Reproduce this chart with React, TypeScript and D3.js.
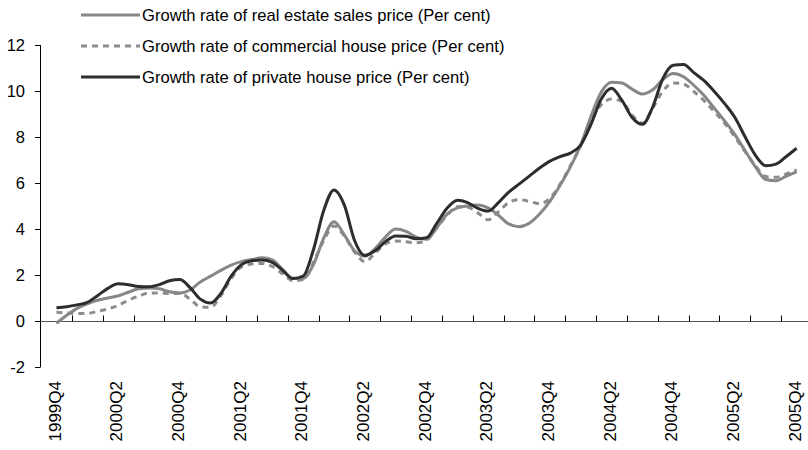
import React, { useEffect, useRef } from 'react';
import * as d3 from 'd3';

// monthly readings, Oct/Nov 1999 .. 2005Q4 (3 points per quarter)
const quarterLabels = [
    '1999Q4', '2000Q2', '2000Q4', '2001Q2', '2001Q4', '2002Q2', '2002Q4',
    '2003Q2', '2003Q4', '2004Q2', '2004Q4', '2005Q2', '2005Q4'
];

const realEstate = [
    -0.10, 0.25, 0.55, 0.75, 0.90, 1.00, 1.09, 1.25, 1.40, 1.43, 1.40, 1.27,
    1.22, 1.35, 1.70, 1.95, 2.20, 2.43, 2.58, 2.67, 2.75, 2.66, 2.25, 1.85,
    1.85, 2.45, 3.60, 4.32, 3.75, 3.05, 2.82, 3.15, 3.65, 4.00, 3.90, 3.65,
    3.55, 4.05, 4.65, 4.92, 5.00, 5.04, 4.92, 4.60, 4.22, 4.10, 4.25, 4.65,
    5.20, 5.90, 6.70, 7.65, 8.90, 9.95, 10.38, 10.35, 10.08, 9.87, 10.05, 10.50,
    10.76, 10.62, 10.25, 9.80, 9.25, 8.70, 8.10, 7.40, 6.70, 6.15, 6.10, 6.30,
    6.49
];

const commercial = [
    0.38, 0.35, 0.33, 0.33, 0.42, 0.52, 0.68, 0.90, 1.08, 1.22, 1.22, 1.20,
    1.20, 0.95, 0.62, 0.60, 1.10, 1.85, 2.35, 2.48, 2.50, 2.37, 2.05, 1.75,
    1.80, 2.55, 3.50, 4.13, 3.70, 3.00, 2.58, 2.95, 3.35, 3.48, 3.45, 3.40,
    3.52, 4.05, 4.60, 4.97, 4.95, 4.70, 4.40, 4.75, 5.15, 5.28, 5.20, 5.10,
    5.33, 5.95, 6.75, 7.62, 8.70, 9.40, 9.65, 9.55, 8.95, 8.60, 9.25, 10.00,
    10.35, 10.30, 9.98, 9.58, 9.10, 8.60, 8.00, 7.35, 6.75, 6.28, 6.25, 6.40,
    6.57
];

const privateHouse = [
    0.58, 0.62, 0.70, 0.81, 1.10, 1.42, 1.62, 1.58, 1.50, 1.49, 1.58, 1.75,
    1.80, 1.45, 0.95, 0.78, 1.20, 1.95, 2.45, 2.62, 2.65, 2.55, 2.20, 1.85,
    1.95, 3.10, 4.80, 5.70, 5.05, 3.50, 2.85, 3.05, 3.45, 3.70, 3.68, 3.58,
    3.62, 4.25, 4.90, 5.25, 5.15, 4.90, 4.78, 5.15, 5.60, 5.95, 6.30, 6.65,
    6.95, 7.15, 7.30, 7.65, 8.55, 9.65, 10.12, 9.60, 8.85, 8.55, 9.30, 10.55,
    11.12, 11.15, 10.80, 10.45, 9.98, 9.45, 8.85, 8.00, 7.20, 6.75, 6.82, 7.15,
    7.51
];

const yTicks = [-2, 0, 2, 4, 6, 8, 10, 12];

const series = [
    { name: 'Growth rate of real estate sales price (Per cent)', values: realEstate, color: '#878787', dash: null },
    { name: 'Growth rate of commercial house price (Per cent)', values: commercial, color: '#8c8c8c', dash: '6,5' },
    { name: 'Growth rate of private house price (Per cent)', values: privateHouse, color: '#2d2d2d', dash: null }
];

const W = 808;
const H = 450;
const FONT = '"Liberation Sans", Arial, sans-serif';

const App: React.FC = () => {
    const svgRef = useRef<SVGSVGElement>(null);

    useEffect(() => {
        if (!svgRef.current) return;
        const svg = d3.select(svgRef.current);
        svg.selectAll('*').remove();

        const nQuarters = 25;
        // x in quarter units, 0 = centre of 1999Q4
        const x = d3.scaleLinear().domain([-0.5, nQuarters - 0.5]).range([41, 812]);
        const y = d3.scaleLinear().domain([-2, 12]).range([367, 45]);

        // y axis
        const yAxis = svg.append('g');
        yAxis.append('line')
            .attr('x1', 40.5).attr('x2', 40.5)
            .attr('y1', y(12)).attr('y2', y(-2))
            .attr('stroke', '#000').attr('stroke-width', 1);
        yTicks.forEach(t => {
            yAxis.append('line')
                .attr('x1', 35).attr('x2', 40.5)
                .attr('y1', Math.round(y(t)) + 0.5).attr('y2', Math.round(y(t)) + 0.5)
                .attr('stroke', '#000');
            yAxis.append('text')
                .attr('x', 25)
                .attr('y', y(t))
                .attr('dy', '0.36em')
                .attr('text-anchor', 'end')
                .attr('font-family', FONT)
                .attr('font-size', 16.5)
                .text(t);
        });

        // x axis along zero
        const y0 = Math.round(y(0)) + 0.5;
        const xAxis = svg.append('g');
        xAxis.append('line')
            .attr('x1', 40.5).attr('x2', W)
            .attr('y1', y0).attr('y2', y0)
            .attr('stroke', '#555').attr('stroke-width', 1.2);
        d3.range(1, nQuarters).forEach(i => {
            const px = Math.round(x(i - 0.5)) + 0.5;
            xAxis.append('line')
                .attr('x1', px).attr('x2', px)
                .attr('y1', y0 - 6).attr('y2', y0)
                .attr('stroke', '#000');
        });
        quarterLabels.forEach((lab, i) => {
            const px = x(i * 2);
            xAxis.append('text')
                .attr('transform', `translate(${px - 2},381) rotate(-90)`)
                .attr('text-anchor', 'end')
                .attr('dy', '0.36em')
                .attr('font-family', FONT)
                .attr('font-size', 17)
                .text(lab);
        });

        // lines
        const line = d3.line<number>()
            .x((_, i) => x(i / 3))
            .y(d => y(d))
            .curve(d3.curveMonotoneX);

        const order = [1, 0, 2];
        order.forEach(k => {
            const s = series[k];
            svg.append('path')
                .attr('d', line(s.values))
                .attr('fill', 'none')
                .attr('stroke', s.color)
                .attr('stroke-width', 3)
                .attr('stroke-dasharray', s.dash)
                .attr('stroke-linejoin', 'round');
        });

        // legend
        const legendY = [15, 46, 77];
        series.forEach((s, i) => {
            const g = svg.append('g');
            g.append('line')
                .attr('x1', 81).attr('x2', 140)
                .attr('y1', legendY[i]).attr('y2', legendY[i])
                .attr('stroke', s.color)
                .attr('stroke-width', 3)
                .attr('stroke-dasharray', s.dash);
            g.append('text')
                .attr('x', 142)
                .attr('y', legendY[i])
                .attr('dy', '0.36em')
                .attr('font-family', FONT)
                .attr('font-size', 16.6)
                .text(s.name);
        });
    }, []);

    return (
        <svg
            ref={svgRef}
            width={W}
            height={H}
            style={{ position: 'absolute', left: 0, top: 0, background: '#fff' }}
        />
    );
};

export default App;
